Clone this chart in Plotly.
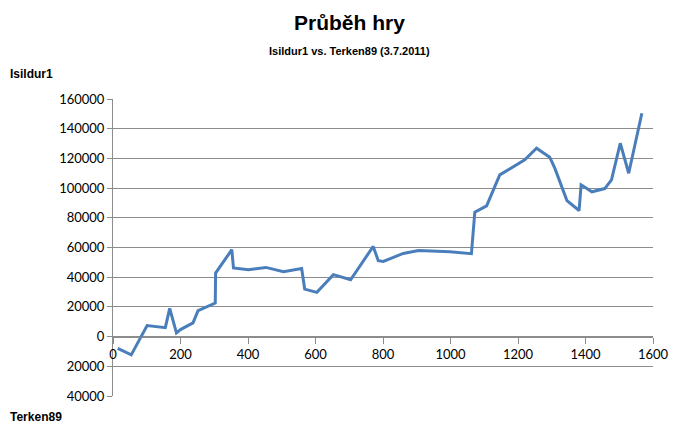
import plotly.graph_objects as go

hands = [14, 54, 101, 155, 168, 188, 200, 237, 252, 303, 304, 352, 357, 401, 453, 505, 559, 568,
         604, 653, 704, 771, 786, 801, 860, 905, 998, 1062, 1072, 1107, 1146, 1220, 1255, 1294,
         1309, 1345, 1381, 1387, 1419, 1457, 1477, 1503, 1528, 1567]
balance = [-8000, -12300, 7400, 6000, 19000, 2500, 4700, 9200, 17500, 22600, 42800, 58500, 46200,
           45000, 46600, 43700, 45900, 32000, 29800, 41700, 38300, 60700, 51100, 50600, 56000,
           58000, 57100, 55800, 83800, 88000, 108900, 119000, 126800, 120800, 113400, 91600,
           84900, 102200, 97500, 99700, 105500, 130200, 110000, 150400]

y_tickvals = [160000, 140000, 120000, 100000, 80000, 60000, 40000, 20000, 0, -20000, -40000]
y_ticktext = ["160000", "140000", "120000", "100000", "80000", "60000", "40000", "20000", "0",
              "20000", "40000"]
x_tickvals = [0, 200, 400, 600, 800, 1000, 1200, 1400, 1600]

title = "Průběh hry"
subtitle = "Isildur1 vs. Terken89 (3.7.2011)"
player_top = "Isildur1"
player_bottom = "Terken89"

fig = go.Figure()
fig.add_trace(go.Scatter(x=hands, y=balance, mode="lines",
                         line=dict(color="#4A7EBB", width=3), hoverinfo="x+y"))

grid = "#8C8C8C"
tickfont = dict(family="Lato, Calibri, sans-serif", size=13, color="#000000")
labfont = "Liberation Sans Narrow, Arial Narrow, Liberation Sans, Arial, sans-serif"

fig.update_layout(
    width=692, height=437,
    margin=dict(l=105, r=47, t=91, b=49),
    paper_bgcolor="white", plot_bgcolor="white",
    showlegend=False,
    xaxis=dict(range=[0, 1600], tickvals=x_tickvals, showgrid=False, zeroline=False,
               showline=True, linecolor=grid, linewidth=1,
               ticks="outside", ticklen=6, tickcolor=grid,
               anchor="free", position=0.2, tickfont=tickfont),
    yaxis=dict(range=[-40000, 160000], tickvals=y_tickvals, ticktext=y_ticktext,
               showgrid=True, gridcolor=grid, gridwidth=1, zeroline=False,
               showline=True, linecolor=grid, linewidth=1,
               ticks="outside", ticklen=5, tickcolor=grid, tickfont=tickfont),
    annotations=[
        dict(text="<b>" + title + "</b>", x=0.438, y=1.259, xref="paper", yref="paper",
             xanchor="center", yanchor="middle", showarrow=False,
             font=dict(family=labfont, size=21, color="#000")),
        dict(text="<b>" + subtitle + "</b>", x=0.438, y=1.160, xref="paper", yref="paper",
             xanchor="center", yanchor="middle", showarrow=False,
             font=dict(family=labfont, size=11, color="#000")),
        dict(text="<b>" + player_top + "</b>", x=-0.195, y=1.084, xref="paper", yref="paper",
             xanchor="left", yanchor="middle", showarrow=False,
             font=dict(family=labfont, size=12, color="#000")),
        dict(text="<b>" + player_bottom + "</b>", x=-0.195, y=-0.0707, xref="paper", yref="paper",
             xanchor="left", yanchor="middle", showarrow=False,
             font=dict(family=labfont, size=12, color="#000")),
    ],
)

fig.write_html("out.html")
